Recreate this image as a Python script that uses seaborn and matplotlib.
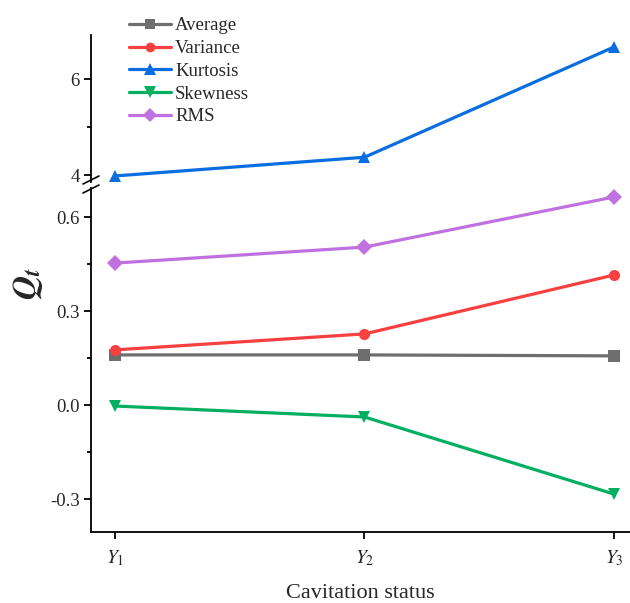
import numpy as np
import pandas as pd
import matplotlib
matplotlib.use("Agg")
import matplotlib.pyplot as plt
import seaborn as sns
from matplotlib.lines import Line2D

categories = ["$Y_1$", "$Y_2$", "$Y_3$"]
average = [0.160, 0.160, 0.157]
variance = [0.176, 0.227, 0.415]
kurtosis = [3.98, 4.37, 6.67]
skewness = [-0.003, -0.038, -0.284]
rms = [0.453, 0.504, 0.664]

sns.set_theme(style="white")
plt.rcParams["font.family"] = ["Liberation Serif", "DejaVu Serif"]
plt.rcParams["mathtext.fontset"] = "stix"

colors = {"Average": "#6e6e6e", "Variance": "#f84040", "Kurtosis": "#0a6ee0",
          "Skewness": "#00b060", "RMS": "#c071e0"}
markers = {"Average": "s", "Variance": "o", "Kurtosis": "^", "Skewness": "v", "RMS": "D"}
msize = {"Average": 8, "Variance": 8, "Kurtosis": 9, "Skewness": 9, "RMS": 8}

fig = plt.figure(figsize=(6.3, 6.03), dpi=100)
L, W = 91 / 630, 1 - 91 / 630
ax_top = fig.add_axes([L, 1 - 182 / 603, W, (182 - 35) / 603])
ax_bot = fig.add_axes([L, 1 - 532 / 603, W, (532 - 188) / 603])

x = np.arange(len(categories))
low_series = [("Average", average), ("Variance", variance), ("Skewness", skewness), ("RMS", rms)]
for name, vals in low_series:
    df = pd.DataFrame({"x": x, "y": vals})
    sns.lineplot(data=df, x="x", y="y", ax=ax_bot, color=colors[name], marker=markers[name],
                 markersize=msize[name], markeredgewidth=0, linewidth=2.3, zorder=3)
df = pd.DataFrame({"x": x, "y": kurtosis})
sns.lineplot(data=df, x="x", y="y", ax=ax_top, color=colors["Kurtosis"], marker=markers["Kurtosis"],
             markersize=msize["Kurtosis"], markeredgewidth=0, linewidth=2.3, zorder=3)

for ax in (ax_top, ax_bot):
    ax.set_xlim(-0.096, 2.064)
    ax.set_xlabel("")
    ax.set_ylabel("")
    for s in ("top", "right"):
        ax.spines[s].set_visible(False)
    ax.spines["left"].set_color("black")
    ax.spines["left"].set_linewidth(1.3)
    ax.tick_params(axis="y", which="major", direction="out", length=5, width=1.3,
                   color="black", labelsize=13.5, left=True, pad=3)
    ax.tick_params(axis="y", which="minor", direction="out", length=3, width=1.3,
                   color="black", left=True)

ax_top.set_ylim(3.854, 6.92)
ax_top.set_yticks([4, 6])
ax_top.set_yticklabels(["4", "6"])
ax_top.set_yticks([5], minor=True)
ax_top.spines["bottom"].set_visible(False)
ax_top.set_xticks([])

ax_bot.set_ylim(-0.405, 0.6926)
ax_bot.set_yticks([-0.3, 0.0, 0.3, 0.6])
ax_bot.set_yticklabels(["-0.3", "0.0", "0.3", "0.6"])
ax_bot.set_yticks([-0.15, 0.15, 0.45], minor=True)
ax_bot.spines["bottom"].set_color("black")
ax_bot.spines["bottom"].set_linewidth(1.3)
ax_bot.set_xticks(x)
ax_bot.set_xticklabels(categories)
ax_bot.tick_params(axis="x", which="major", direction="out", length=5, width=1.3,
                   color="black", labelsize=14, bottom=True, pad=6.5)
ax_bot.set_xlabel("Cavitation status", fontsize=16, labelpad=12)
fig.text(28 / 630, 1 - 283 / 603, r"$\mathbfit{Q_t}$", fontsize=24, rotation=90,
         ha="center", va="center")

# break marks
for yy in (1 - 180 / 603, 1 - 189 / 603):
    fig.add_artist(Line2D([83 / 630, 99 / 630], [yy - 4 / 603, yy + 4 / 603],
                          transform=fig.transFigure, color="black", linewidth=1.2))

handles = [Line2D([], [], color=colors[n], marker=markers[n], markersize=msize[n] - 1,
                  markeredgewidth=0, linewidth=2.3) for n in
           ["Average", "Variance", "Kurtosis", "Skewness", "RMS"]]
fig.legend(handles, ["Average", "Variance", "Kurtosis", "Skewness", "RMS"],
           loc="upper left", bbox_to_anchor=(118 / 630, 1 - 6 / 603), frameon=False,
           fontsize=13.5, handlelength=2.2, handletextpad=0.25, labelspacing=0.3,
           borderpad=0.1)

fig.savefig("out.png", dpi=100)
